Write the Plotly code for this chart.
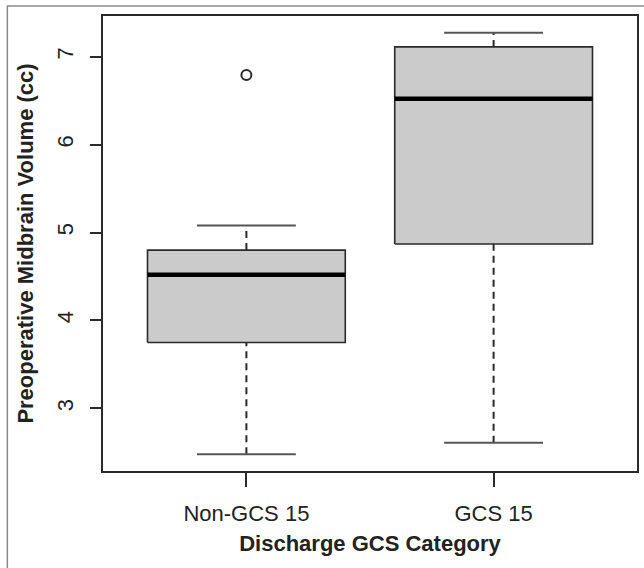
import plotly.graph_objects as go

categories = ["Non-GCS 15", "GCS 15"]
lower_whisker = [2.48, 2.61]
q1 = [3.75, 4.87]
median = [4.52, 6.52]
q3 = [4.80, 7.11]
upper_whisker = [5.08, 7.27]
outliers = [[6.79], []]
y_ticks = [3, 4, 5, 6, 7]

FONT = "Liberation Sans, Arial, Helvetica, sans-serif"
BOXW = 0.4   # half box width (R boxwex 0.8)
CAPW = 0.2   # half staple width
LINE = "#2a2a2a"

fig = go.Figure()
for i, cat in enumerate(categories):
    p = i + 1
    # dashed whiskers
    fig.add_trace(go.Scatter(
        x=[p, p, None, p, p],
        y=[lower_whisker[i], q1[i], None, q3[i], upper_whisker[i]],
        mode="lines", line=dict(color=LINE, width=2, dash="7px,5px"),
        hoverinfo="skip", showlegend=False))
    # box
    fig.add_trace(go.Scatter(
        x=[p - BOXW, p + BOXW, p + BOXW, p - BOXW, p - BOXW],
        y=[q1[i], q1[i], q3[i], q3[i], q1[i]],
        mode="lines", fill="toself", fillcolor="#cbcbcb",
        line=dict(color=LINE, width=1.6), name=cat, showlegend=False))
    # median
    fig.add_trace(go.Scatter(
        x=[p - BOXW, p + BOXW], y=[median[i], median[i]],
        mode="lines", line=dict(color="#000000", width=4.5),
        hoverinfo="skip", showlegend=False))
    # staples
    fig.add_trace(go.Scatter(
        x=[p - CAPW, p + CAPW, None, p - CAPW, p + CAPW],
        y=[lower_whisker[i], lower_whisker[i], None, upper_whisker[i], upper_whisker[i]],
        mode="lines", line=dict(color="#555555", width=2),
        hoverinfo="skip", showlegend=False))
    # outliers
    if outliers[i]:
        fig.add_trace(go.Scatter(
            x=[p] * len(outliers[i]), y=outliers[i], mode="markers",
            marker=dict(symbol="circle-open", size=10, color=LINE,
                        line=dict(width=2, color=LINE)),
            showlegend=False))

all_vals = lower_whisker + upper_whisker + [v for o in outliers for v in o]
lo, hi = min(all_vals), max(all_vals)
ext = 0.04 * (hi - lo)
n = len(categories)
xext = 0.04 * n

fig.update_layout(
    width=644, height=568,
    margin=dict(l=103, r=5, t=16, b=97),
    paper_bgcolor="white", plot_bgcolor="white",
    font=dict(family=FONT, size=22, color="#222222"),
    xaxis=dict(
        range=[0.5 - xext, n + 0.5 + xext],
        tickmode="array", tickvals=list(range(1, n + 1)), ticktext=categories,
        ticks="outside", ticklen=14, tickwidth=1.6, tickcolor=LINE,
        ticklabelstandoff=8,
        showgrid=False, zeroline=False,
        showline=True, mirror=True, linecolor=LINE, linewidth=1.6,
        tickfont=dict(size=22),
        title=dict(text="<b>Discharge GCS Category</b>", standoff=10,
                   font=dict(size=22)),
    ),
    yaxis=dict(
        range=[lo - ext, hi + ext],
        tickmode="array", tickvals=y_ticks, ticktext=[str(v) for v in y_ticks],
        tickangle=-90,
        ticks="outside", ticklen=11, tickwidth=1.6, tickcolor=LINE,
        ticklabelstandoff=8,
        showgrid=False, zeroline=False,
        showline=True, mirror=True, linecolor=LINE, linewidth=1.6,
        tickfont=dict(size=22),
        title=dict(text="<b>Preoperative Midbrain Volume (cc)</b>", standoff=14,
                   font=dict(size=22)),
    ),
    shapes=[dict(type="rect", xref="paper", yref="paper",
                 x0=(7 - 103) / 536, x1=1.05, y0=-0.3, y1=(471 - 6) / 455,
                 line=dict(color="#8a8a8a", width=1.5), layer="below")],
)

fig.write_html("out.html")
